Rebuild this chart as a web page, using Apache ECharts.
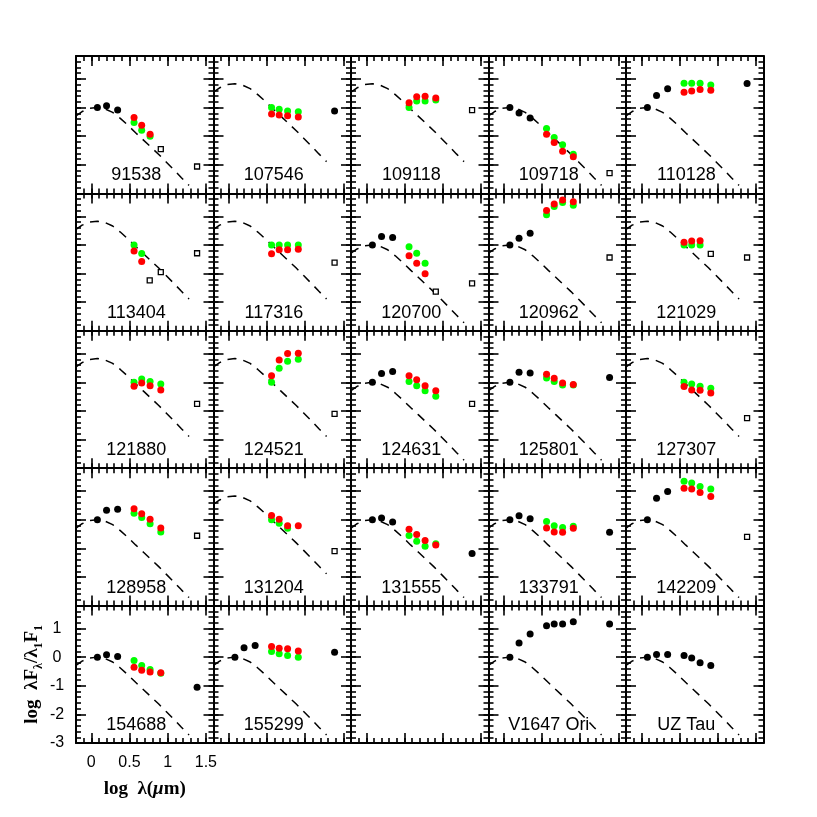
<!DOCTYPE html>
<html>
<head>
<meta charset="utf-8">
<script src="https://cdn.jsdelivr.net/npm/echarts@6/dist/echarts.min.js"></script>
<style>
  html, body { margin: 0; background: #fff; }
  #chart { width: 817px; height: 817px; }
</style>
</head>
<body>
<div id="chart"></div>
<script>
// panel names, row by row (the 23rd panel is empty)
var panelNames = ['91538', '107546', '109118', '109718', '110128',
                  '113404', '117316', '120700', '120962', '121029',
                  '121880', '124521', '124631', '125801', '127307',
                  '128958', '131204', '131555', '133791', '142209',
                  '154688', '155299', '', 'V1647 Ori', 'UZ Tau'];

// photosphere curve (relative to J), and its shift per panel
var curveX = [-0.2, -0.12, -0.02, 0.08, 0.18, 0.28, 0.38, 0.48, 0.58, 0.68, 0.78, 0.88, 0.98, 1.08, 1.18, 1.28];
var curveY = [-0.29, -0.14, -0.03, 0, -0.05, -0.17, -0.38, -0.62, -0.88, -1.13, -1.38, -1.63, -1.90, -2.17, -2.45, -2.72];
var curveShift = [0, 0.83, 0.83, 0, 0,
                  0.83, 0.83, 0, 0, 0.83,
                  0.83, 0.83, 0, 0, 0.83,
                  0, 0.83, 0, 0, 0,
                  0, 0, null, 0, 0];

// log lambda of the bands: J H K, IRAC 1-4, MIPS 24
var bandX = [0.08, 0.2, 0.345, 0.56, 0.66, 0.77, 0.91, 1.385];
var iracX = bandX.slice(3, 7);

// black points (one value per band, null = none)
var blackY = [
  [0, 0.06, -0.09, null, null, null, null, null],
  [null, null, null, null, null, null, null, -0.12],
  [null, null, null, null, null, null, null, null],
  [0, -0.19, -0.37, null, null, null, null, null],
  [0, 0.42, 0.66, null, null, null, null, 0.84],
  [null, null, null, null, null, null, null, null],
  [null, null, null, null, null, null, null, null],
  [0, 0.29, 0.26, null, null, null, null, null],
  [0, 0.23, 0.41, null, null, null, null, null],
  [null, null, null, null, null, null, null, null],
  [null, null, null, null, null, null, null, null],
  [null, null, null, null, null, null, null, null],
  [0, 0.31, 0.38, null, null, null, null, null],
  [0, 0.35, 0.33, null, null, null, null, 0.17],
  [null, null, null, null, null, null, null, null],
  [0, 0.33, 0.37, null, null, null, null, null],
  [null, null, null, null, null, null, null, null],
  [0, 0.06, -0.08, null, null, null, null, -1.18],
  [0, 0.14, 0.03, null, null, null, null, -0.44],
  [0, 0.75, 0.99, null, null, null, null, null],
  [0, 0.08, 0.02, null, null, null, null, -1.05],
  [0, 0.33, 0.41, null, null, null, null, 0.17],
  [null, null, null, null, null, null, null, null],
  [0, 0.49, 0.81, 1.10, 1.16, 1.16, 1.24, 1.16],
  [0, 0.09, 0.09, 0.06, -0.03, -0.20, -0.29, null]
];

// IRAC first epoch (green) and second epoch (red)
var greenY = [
  [-0.52, -0.79, -1.0, null], [0, -0.06, -0.12, -0.15], [0, 0.23, 0.23, 0.26], [-0.73, -1.05, -1.30, -1.63], [0.85, 0.85, 0.85, 0.79],
  [0, -0.30, null, null], [0, 0, 0, 0], [-0.06, -0.29, -0.64, null], [1.05, 1.34, 1.48, 1.39], [0, 0, 0, null],
  [0, 0.12, 0.03, -0.06], [0, 0.49, 0.74, 0.81], [0.03, -0.12, -0.29, -0.49], [0.15, 0.03, -0.09, -0.09], [0, -0.06, -0.14, -0.21],
  [0.23, 0.08, -0.14, -0.43], [0, -0.12, -0.30, null], [-0.55, -0.75, -0.93, -0.84], [-0.06, -0.21, -0.27, -0.23], [1.34, 1.28, 1.16, 1.07],
  [-0.12, -0.29, -0.43, -0.56], [0.20, 0.12, 0.06, 0], null, null, null
];
var redY = [
  [-0.35, -0.62, -0.93, null], [-0.23, -0.26, -0.29, -0.33], [0.17, 0.38, 0.39, 0.33], [-0.93, -1.22, -1.53, -1.72], [0.53, 0.58, 0.63, 0.60],
  [-0.21, -0.58, null, null], [-0.31, -0.17, -0.17, -0.15], [-0.38, -0.64, -1.01, null], [1.2, 1.43, 1.57, 1.51], [0.09, 0.14, 0.15, null],
  [-0.14, -0.02, -0.12, -0.27], [0.23, 0.78, 1.01, 1.02], [0.23, 0.09, -0.12, -0.29], [0.28, 0.14, -0.02, -0.08], [-0.15, -0.27, -0.28, -0.37],
  [0.38, 0.21, 0.02, -0.29], [0.15, 0.02, -0.21, -0.21], [-0.33, -0.52, -0.73, -0.88], [-0.29, -0.43, -0.44, -0.30], [1.1, 1.07, 0.95, 0.81],
  [-0.35, -0.46, -0.52, -0.55], [0.37, 0.31, 0.29, 0.21], null, null, null
];

// open squares [log lambda, value]
var squares = [
  [[0.91, -1.45], [1.385, -2.06]], [], [[1.385, -0.09]], [[1.385, -2.29]], [],
  [[0.765, -1.24], [0.91, -0.95], [1.385, -0.29]], [[1.385, -0.62]], [[0.91, -1.63], [1.385, -1.34]], [[1.385, -0.44]], [[0.91, -0.31], [1.385, -0.44]],
  [[1.385, -0.75]], [[1.385, -1.10]], [[1.385, -0.75]], [], [[1.385, -1.25]],
  [[1.385, -0.56]], [[1.385, -1.10]], [], [], [[1.385, -0.60]],
  [], [], [], [], []
];

var xMajor = [0, 0.5, 1, 1.5];
var yMajor = [-3, -2, -1, 0, 1];
var labelPos = [0.59, -2.37];

var INK = '#000';
var SANS = 'Liberation Sans';
var SERIF = 'Liberation Serif';

function pick(xs, ys) {
    var out = [];
    if (!ys) return out;
    xs.forEach(function (x, k) {
        if (ys[k] !== null && ys[k] !== undefined) out.push([x, ys[k]]);
    });
    return out;
}

function tickAxis(i, pos, isX, major, corner) {
    var ax = {
        type: 'value',
        gridIndex: i,
        position: pos,
        min: isX ? -0.2 : -3,
        max: isX ? 1.6 : 1.8,
        axisLine: { show: !major, onZero: false, lineStyle: { color: INK, width: 2 } },
        axisTick: { show: true, inside: true, length: major ? 10 : 5, lineStyle: { color: INK, width: 1.6 } },
        axisLabel: { show: false },
        splitLine: { show: false }
    };
    if (!major) {
        ax.interval = isX ? 0.1 : 0.2;
    } else {
        ax.axisTick.customValues = isX ? xMajor : yMajor;
    }
    if (major && corner) {
        if (isX) {
            ax.axisLabel = { show: true, customValues: xMajor, margin: 12, color: INK, fontFamily: SANS, fontSize: 16 };
            ax.name = 'log  λ({i|μ}m)';
            ax.nameLocation = 'middle';
            ax.nameGap = 37;
            ax.nameTextStyle = {
                color: INK, fontFamily: SERIF, fontSize: 19, fontWeight: 'bold',
                rich: { i: { fontFamily: SERIF, fontSize: 19, fontWeight: 'bold', fontStyle: 'italic' } }
            };
        } else {
            ax.axisLabel = { show: true, customValues: yMajor, margin: 19, align: 'center', color: INK, fontFamily: SANS, fontSize: 16 };
            ax.name = 'log  λF{s|λ}/λ{s|1}F{s|1}';
            ax.nameLocation = 'middle';
            ax.nameRotate = 90;
            ax.nameGap = 31;
            ax.nameTextStyle = {
                color: INK, fontFamily: SERIF, fontSize: 19, fontWeight: 'bold', lineHeight: 26,
                rich: { s: { fontFamily: SERIF, fontSize: 12, fontWeight: 'bold', lineHeight: 12, verticalAlign: 'bottom' } }
            };
        }
    }
    return ax;
}

var grids = [], xAxes = [], yAxes = [], series = [];

panelNames.forEach(function (name, i) {
    var col = i % 5, row = Math.floor(i / 5);
    var corner = (i === 20);
    grids.push({ left: 76 + 137.5 * col, top: 56 + 137.4 * row, width: 137.5, height: 137.4 });

    // minor + major ticks on all four sides of each panel
    xAxes.push(tickAxis(i, 'bottom', true, false, corner));
    xAxes.push(tickAxis(i, 'bottom', true, true, corner));
    xAxes.push(tickAxis(i, 'top', true, false, false));
    xAxes.push(tickAxis(i, 'top', true, true, false));
    yAxes.push(tickAxis(i, 'left', false, false, corner));
    yAxes.push(tickAxis(i, 'left', false, true, corner));
    yAxes.push(tickAxis(i, 'right', false, false, false));
    yAxes.push(tickAxis(i, 'right', false, true, false));

    var ax = { xAxisIndex: 4 * i, yAxisIndex: 4 * i };

    if (curveShift[i] !== null) {
        series.push(Object.assign({
            type: 'line',
            data: curveX.map(function (x, k) { return [x, curveY[k] + curveShift[i]]; }),
            symbol: 'none',
            silent: true,
            z: 2,
            lineStyle: { color: INK, width: 1.5, type: [9, 7] }
        }, ax));
    }
    series.push(Object.assign({
        type: 'scatter', data: pick(bandX, blackY[i]), symbolSize: 7, z: 3,
        itemStyle: { color: INK, opacity: 1 }
    }, ax));
    series.push(Object.assign({
        type: 'scatter', data: pick(iracX, greenY[i]), symbolSize: 7, z: 3,
        itemStyle: { color: '#00ff00', opacity: 1 }
    }, ax));
    series.push(Object.assign({
        type: 'scatter', data: pick(iracX, redY[i]), symbolSize: 7, z: 4,
        itemStyle: { color: '#ff0000', opacity: 1 }
    }, ax));
    series.push(Object.assign({
        type: 'scatter', data: squares[i], symbol: 'rect', symbolSize: 5, z: 3,
        itemStyle: { color: '#fff', borderColor: INK, borderWidth: 1.3, opacity: 1 }
    }, ax));
    if (name) {
        series.push(Object.assign({
            type: 'scatter', data: [labelPos], symbolSize: 1, silent: true, z: 1,
            itemStyle: { color: 'rgba(0,0,0,0)', opacity: 1 },
            label: {
                show: true, position: 'inside', formatter: name, opacity: 1,
                color: INK, fontFamily: SANS, fontSize: 18
            }
        }, ax));
    }
});

var myChart = echarts.init(document.getElementById('chart'));
myChart.setOption({
    backgroundColor: '#fff',
    animation: false,
    grid: grids,
    xAxis: xAxes,
    yAxis: yAxes,
    series: series
});
</script>
</body>
</html>
